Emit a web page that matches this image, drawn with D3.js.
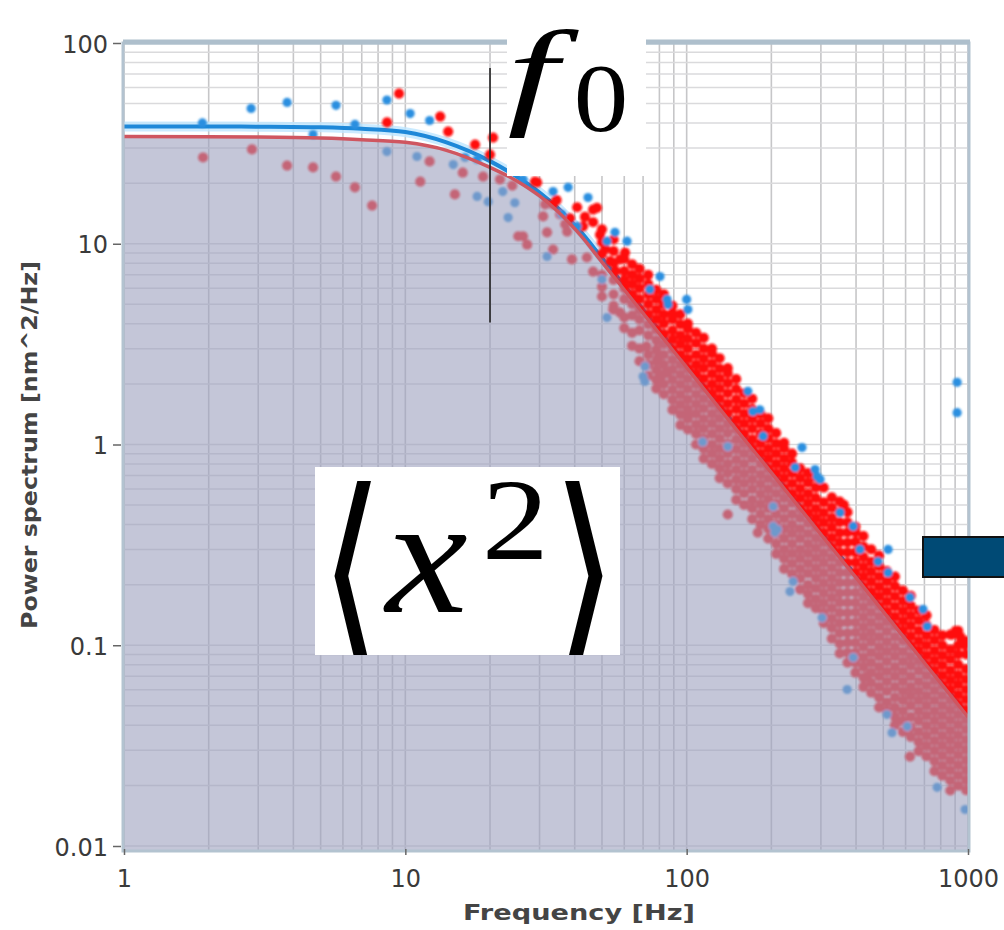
<!DOCTYPE html>
<html>
<head>
<meta charset="utf-8">
<script src="https://cdn.jsdelivr.net/npm/d3@7"></script>
<style>
  body { margin: 0; background: #fff; }
</style>
</head>
<body>
<div class="chart"></div>
<script>
const width = 1004;
const height = 930;
const plot = { left: 124, right: 968, top: 43, bottom: 846 };

const xTicks = [1, 10, 100, 1000];
const xTickLabels = ['1', '10', '100', '1000'];
const yTicks = [0.01, 0.1, 1, 10, 100];
const yTickLabels = ['0.01', '0.1', '1', '10', '100'];

// fitted curves [Hz, nm^2/Hz]
const fitRed = [[1, 34.2], [2, 34.1], [3, 34], [5, 33.6], [7, 33], [10, 32], [14, 29.2], [20, 24], [25, 20.5],
  [30, 17.3], [35, 14.4], [42, 11], [50, 8.1], [60, 5.9], [80, 3.57], [100, 2.42], [150, 1.19], [200, 0.724],
  [300, 0.357], [400, 0.217], [600, 0.107], [800, 0.0647], [1000, 0.0439]];
const fitBlue = [[1, 38.4], [2, 38.4], [3, 38.3], [5, 38], [7, 37.4], [10, 36], [14, 32], [20, 25.8], [25, 21.5],
  [30, 18], [35, 15], [42, 11.5], [50, 8.5], [60, 6.2], [80, 3.7], [100, 2.5], [200, 0.745], [400, 0.222],
  [1000, 0.045]];

const f0Marker = [20, 4.05, 75]; // frequency, bottom, top

// scattered red points
const redPoints = [[1.91, 26.9], [2.85, 29.5], [3.8, 24.5], [4.7, 24], [5.67, 21.6], [6.62, 19.1], [7.62, 15.5],
  [8.61, 40.2], [9.5, 56], [11.3, 20.4], [12.2, 25.7], [13.3, 43], [14.2, 36.2], [15, 17.6], [16, 22.6],
  [17.7, 31.2], [18.9, 21.6], [20.5, 33.8], [20, 27.8], [21.7, 20.9], [25.2, 10.9], [26.2, 10.9], [27.1, 9.9],
  [28.9, 20.4], [29.4, 20.2], [30.9, 13.7], [31.4, 15.7], [31.9, 11.4], [33.5, 15.7], [33.5, 9.36], [35.5, 14],
  [37, 12.5], [37.6, 11.5], [39.1, 8.35], [40.8, 15.2], [42.8, 12.2], [44.2, 8.54], [46.5, 14.8], [46.5, 12.8],
  [46.5, 7.27], [48, 15.1], [49.2, 11.1], [50, 5.46], [51.4, 9.4], [53.5, 8.2], [54.8, 4.7], [55.9, 7.3],
  [58, 4.54], [58, 8.35], [60.4, 9.04], [72, 3.08], [79.1, 2.71], [80, 2.18], [85.2, 2.28], [89.5, 1.49],
  [101, 1.38], [140, 0.448], [179, 0.364], [437, 0.0699], [622, 0.0279], [880, 0.113], [905, 0.118],
  [940, 0.11], [960, 0.105], [975, 0.1], [362, 0.5], [43.5, 13.6], [38.5, 13.4], [34.5, 16.5], [24, 19.5]];

// dense red band, one column of readings per frequency
const redBand = [
  [50, [11.8, 10.2, 8.9, 7.0, 6.1]],
  [55, [10.5, 9.2, 8.0, 6.6, 5.6, 4.9]],
  [60, [8.4, 7.3, 6.6, 6.0, 5.3, 4.3, 3.8]],
  [64, [7.9, 7.0, 6.3, 5.6, 5.0, 4.4, 3.6, 3.1]],
  [68, [7.5, 6.7, 6.0, 5.3, 4.7, 4.2, 3.7, 3.0, 2.6]],
  [73, [7.0, 6.3, 5.6, 5.0, 4.45, 3.96, 3.5, 2.8, 2.5, 2.2]],
  [78, [5.9, 5.3, 4.7, 4.2, 3.73, 3.3, 2.96, 2.6, 2.35, 2.1, 1.9]],
  [83, [5.6, 5.0, 4.45, 4.0, 3.55, 3.16, 2.8, 2.5, 2.24, 2.0, 1.78]],
  [89, [4.9, 4.5, 4.2, 3.7, 3.33, 2.97, 2.64, 2.36, 2.1, 1.87, 1.67, 1.49]],
  [95, [4.45, 3.97, 3.5, 3.15, 2.8, 2.5, 2.23, 1.99, 1.77, 1.58, 1.41, 1.25]],
  [101, [4.0, 3.77, 3.36, 3.0, 2.67, 2.38, 2.12, 1.89, 1.68, 1.5, 1.34, 1.19]],
  [108, [3.6, 3.2, 2.8, 2.5, 2.25, 2.0, 1.78, 1.59, 1.42, 1.26, 1.13, 1.0]],
  [115, [3.4, 3.0, 2.68, 2.4, 2.13, 1.9, 1.69, 1.51, 1.34, 1.2, 1.07, 0.95, 0.85]],
  [123, [3.0, 2.84, 2.53, 2.25, 2.0, 1.79, 1.6, 1.42, 1.27, 1.13, 1.0, 0.9, 0.8]],
  [131, [2.69, 2.39, 2.13, 1.9, 1.69, 1.51, 1.35, 1.2, 1.07, 0.95, 0.85, 0.76, 0.68]],
  [140, [2.4, 2.27, 2.02, 1.8, 1.6, 1.43, 1.27, 1.14, 1.01, 0.9, 0.8, 0.72, 0.64]],
  [150, [2.12, 1.89, 1.68, 1.5, 1.33, 1.19, 1.06, 0.945, 0.84, 0.75, 0.67, 0.6, 0.53]],
  [160, [1.8, 1.6, 1.42, 1.27, 1.13, 1.01, 0.9, 0.8, 0.715, 0.64, 0.57, 0.5]],
  [171, [1.69, 1.5, 1.34, 1.2, 1.06, 0.95, 0.85, 0.75, 0.67, 0.6, 0.53, 0.48, 0.425]],
  [183, [1.42, 1.27, 1.13, 1.01, 0.9, 0.8, 0.71, 0.635, 0.566, 0.505, 0.45, 0.4]],
  [195, [1.35, 1.2, 1.07, 0.95, 0.85, 0.757, 0.675, 0.6, 0.535, 0.48, 0.425, 0.38, 0.34]],
  [208, [1.14, 1.01, 0.9, 0.8, 0.717, 0.64, 0.57, 0.507, 0.45, 0.4, 0.36, 0.32, 0.285]],
  [222, [1.02, 0.957, 0.85, 0.76, 0.68, 0.604, 0.54, 0.48, 0.427, 0.38, 0.34, 0.3, 0.27, 0.24]],
  [237, [0.9, 0.81, 0.72, 0.64, 0.57, 0.51, 0.45, 0.4, 0.36, 0.32, 0.286, 0.255, 0.227]],
  [253, [0.76, 0.68, 0.605, 0.54, 0.48, 0.43, 0.38, 0.34, 0.3, 0.27, 0.24, 0.215, 0.19]],
  [270, [0.72, 0.645, 0.57, 0.51, 0.455, 0.406, 0.36, 0.32, 0.287, 0.256, 0.228, 0.2, 0.18, 0.162]],
  [288, [0.685, 0.61, 0.54, 0.48, 0.43, 0.384, 0.342, 0.305, 0.272, 0.242, 0.216, 0.192, 0.17, 0.153]],
  [307, [0.61, 0.515, 0.456, 0.408, 0.363, 0.324, 0.288, 0.257, 0.229, 0.204, 0.182, 0.162, 0.145, 0.129]],
  [328, [0.545, 0.485, 0.43, 0.385, 0.343, 0.306, 0.273, 0.243, 0.216, 0.193, 0.172, 0.153, 0.136, 0.122, 0.108]],
  [350, [0.52, 0.46, 0.41, 0.363, 0.325, 0.29, 0.258, 0.23, 0.205, 0.182, 0.163, 0.145, 0.129, 0.115, 0.102, 0.091]],
  [373, [0.46, 0.41, 0.365, 0.325, 0.29, 0.258, 0.23, 0.205, 0.183, 0.163, 0.145, 0.13, 0.115, 0.103, 0.092, 0.082]],
  [398, [0.39, 0.366, 0.327, 0.29, 0.259, 0.231, 0.206, 0.183, 0.163, 0.146, 0.13, 0.116, 0.103, 0.092, 0.082, 0.073]],
  [425, [0.35, 0.31, 0.275, 0.245, 0.219, 0.195, 0.174, 0.155, 0.138, 0.123, 0.11, 0.098, 0.087, 0.078, 0.069, 0.062]],
  [453, [0.3, 0.26, 0.232, 0.207, 0.184, 0.164, 0.146, 0.13, 0.116, 0.104, 0.092, 0.082, 0.073, 0.065, 0.058]],
  [483, [0.28, 0.248, 0.22, 0.196, 0.175, 0.156, 0.139, 0.124, 0.11, 0.098, 0.088, 0.078, 0.07, 0.062, 0.055, 0.049]],
  [515, [0.234, 0.208, 0.185, 0.165, 0.147, 0.131, 0.117, 0.104, 0.093, 0.083, 0.074, 0.066, 0.059, 0.052, 0.047]],
  [550, [0.22, 0.197, 0.175, 0.156, 0.139, 0.124, 0.11, 0.098, 0.088, 0.078, 0.07, 0.062, 0.055, 0.049, 0.044, 0.04]],
  [587, [0.187, 0.166, 0.148, 0.132, 0.118, 0.105, 0.093, 0.083, 0.074, 0.066, 0.059, 0.053, 0.047, 0.042, 0.037]],
  [626, [0.176, 0.157, 0.14, 0.125, 0.111, 0.099, 0.088, 0.079, 0.07, 0.062, 0.056, 0.05, 0.044, 0.039, 0.035]],
  [668, [0.149, 0.133, 0.118, 0.105, 0.094, 0.0835, 0.0745, 0.066, 0.059, 0.053, 0.047, 0.042, 0.037, 0.033, 0.0297]],
  [712, [0.141, 0.126, 0.112, 0.1, 0.089, 0.0794, 0.0707, 0.063, 0.056, 0.05, 0.0446, 0.0397, 0.0354, 0.0315, 0.028]],
  [760, [0.119, 0.106, 0.094, 0.084, 0.075, 0.0667, 0.0594, 0.053, 0.047, 0.042, 0.0375, 0.0334, 0.0298, 0.0265, 0.0236]],
  [811, [0.112, 0.1, 0.089, 0.0795, 0.0708, 0.0631, 0.0562, 0.05, 0.0446, 0.0398, 0.0354, 0.0316, 0.0282, 0.0251, 0.0224]],
  [865, [0.113, 0.095, 0.085, 0.075, 0.067, 0.06, 0.0533, 0.0475, 0.0424, 0.0377, 0.0337, 0.03, 0.0267, 0.0238, 0.0212, 0.0189]],
  [923, [0.118, 0.1, 0.09, 0.08, 0.071, 0.0636, 0.0566, 0.0505, 0.045, 0.0401, 0.0357, 0.0318, 0.0284, 0.0253, 0.0225, 0.02]],
  [985, [0.105, 0.09, 0.076, 0.0676, 0.0602, 0.0537, 0.0478, 0.0426, 0.038, 0.0338, 0.0301, 0.0268, 0.0239, 0.0213, 0.019]]
];

// blue points
const bluePoints = [[1.9, 40], [2.83, 47.2], [3.8, 50.6], [5.67, 48.9], [6.62, 39.3], [4.7, 35], [8.6, 52],
  [10.4, 44.5], [12.2, 41.1], [8.6, 28.8], [11, 27.2], [14.8, 24.8], [16.3, 26.9], [18, 26.3], [18, 17.2],
  [19.7, 16.2], [22.2, 18.2], [24.5, 16], [23.2, 13.5], [26.2, 20.9], [33.5, 18.2], [37.9, 19.1], [44.6, 17],
  [36, 14], [40.8, 12.2], [55.6, 11.4], [61.4, 10.3], [52.1, 10.3], [80.4, 6.87], [85.2, 5.28], [31.9, 8.64],
  [50, 6.64], [52.1, 4.29], [71.1, 2.45], [70, 2.18], [100, 5.28], [101, 4.7], [74, 5.92], [85.9, 4.98],
  [71, 2.06], [114, 1.03], [165, 1.84], [172, 1.46], [257, 0.966], [291, 0.693], [187, 1.1], [210, 0.377],
  [140, 0.977], [203, 0.491], [286, 0.75], [298, 0.67], [243, 0.768], [351, 0.458], [391, 0.391], [413, 0.3],
  [479, 0.261], [520, 0.3], [520, 0.23], [622, 0.173], [692, 0.151], [716, 0.124], [915, 2.04], [915, 1.44],
  [182, 1.49], [203, 0.391], [206, 0.364], [239, 0.208], [233, 0.185], [303, 0.137], [372, 0.0602],
  [515, 0.0452], [537, 0.0367], [777, 0.0196], [977, 0.0152], [391, 0.0869], [608, 0.0394]];

const svg = d3.select('.chart')
  .append('svg')
    .attr('width', width)
    .attr('height', height);

const x = d3.scaleLog().domain([1, 1000]).range([plot.left, plot.right]);
const y = d3.scaleLog().domain([0.01, 100]).range([plot.bottom, plot.top]);

const defs = svg.append('defs');
defs.append('clipPath').attr('id', 'plotClip')
  .append('rect')
    .attr('x', plot.left).attr('y', plot.top)
    .attr('width', plot.right - plot.left).attr('height', plot.bottom - plot.top + 4);
defs.append('filter').attr('id', 'soft')
  .attr('x', '-5%').attr('y', '-5%').attr('width', '110%').attr('height', '110%')
  .append('feGaussianBlur').attr('stdDeviation', 0.9);

// grid
const grid = svg.append('g');
grid.selectAll('.vg').data(x.ticks()).join('line')
  .attr('x1', d => x(d)).attr('x2', d => x(d))
  .attr('y1', plot.top).attr('y2', plot.bottom + 4)
  .attr('stroke', '#c6c6c8').attr('stroke-width', 1.6);
grid.selectAll('.hg').data(y.ticks()).join('line')
  .attr('x1', plot.left).attr('x2', plot.right)
  .attr('y1', d => y(d)).attr('y2', d => y(d))
  .attr('stroke', '#dadadc').attr('stroke-width', 1.5);

const chartG = svg.append('g').attr('clip-path', 'url(#plotClip)');

const line = d3.line().x(d => x(d[0])).y(d => y(d[1])).curve(d3.curveMonotoneX);

// blue fit sits under the points
chartG.append('path').datum(fitBlue)
  .attr('d', line).attr('fill', 'none')
  .attr('stroke', 'rgba(190,230,255,0.8)').attr('stroke-width', 10);
chartG.append('path').datum(fitBlue)
  .attr('d', line).attr('fill', 'none')
  .attr('stroke', '#1e88d8').attr('stroke-width', 4);

const redAll = redBand.flatMap(([f, vals]) => vals.map(v => [f, v])).concat(redPoints);

const dots = chartG.append('g').attr('filter', 'url(#soft)');
dots.append('g').selectAll('circle').data(redAll).join('circle')
  .attr('cx', d => x(d[0])).attr('cy', d => y(d[1])).attr('r', 5.1)
  .attr('fill', '#ff0f0f');
dots.append('g').selectAll('circle').data(bluePoints).join('circle')
  .attr('cx', d => x(d[0])).attr('cy', d => y(d[1])).attr('r', 4.6)
  .attr('fill', '#2b8fe0');

// shaded area under the red fit, drawn over the points
const area = d3.area()
  .x(d => x(d[0]))
  .y0(plot.bottom + 6)
  .y1(d => y(d[1]))
  .curve(d3.curveMonotoneX);
chartG.append('path').datum(fitRed)
  .attr('d', area)
  .attr('fill', 'rgb(157,160,190)').attr('fill-opacity', 0.6);

chartG.append('path').datum(fitRed)
  .attr('d', line).attr('fill', 'none')
  .attr('stroke', '#cf5660').attr('stroke-width', 3.5);

// frame
svg.append('rect')
  .attr('x', plot.left - 1).attr('y', plot.top)
  .attr('width', plot.right - plot.left + 2).attr('height', plot.bottom - plot.top + 5)
  .attr('fill', 'none').attr('stroke', '#b3c3d0').attr('stroke-width', 3);
svg.append('line')
  .attr('x1', plot.left - 1).attr('x2', plot.right + 2)
  .attr('y1', plot.top - 1).attr('y2', plot.top - 1)
  .attr('stroke', '#aebfcc').attr('stroke-width', 5);

// axes
const yAxis = svg.append('g')
  .attr('transform', `translate(${plot.left - 3},0)`)
  .call(d3.axisLeft(y).tickValues(yTicks).tickFormat((d, i) => yTickLabels[i]).tickSize(8).tickPadding(5));
yAxis.select('.domain').remove();
yAxis.selectAll('line').attr('stroke', '#666').attr('stroke-width', 1.5);
yAxis.selectAll('text')
  .attr('font-family', 'DejaVu Sans, sans-serif').attr('font-size', 24)
  .attr('fill', '#3a3a3a').attr('dy', '0.38em');

const xAxis = svg.append('g')
  .attr('transform', `translate(0,${plot.bottom + 3})`)
  .call(d3.axisBottom(x).tickValues(xTicks).tickFormat((d, i) => xTickLabels[i]).tickSize(6).tickPadding(15));
xAxis.select('.domain').remove();
xAxis.selectAll('line').attr('stroke', '#666').attr('stroke-width', 1.5);
xAxis.selectAll('text')
  .attr('font-family', 'DejaVu Sans, sans-serif').attr('font-size', 24)
  .attr('fill', '#3a3a3a');

svg.append('text')
  .attr('x', 579).attr('y', 920)
  .attr('text-anchor', 'middle')
  .attr('font-family', 'DejaVu Sans, sans-serif').attr('font-weight', 'bold').attr('font-size', 22)
  .attr('textLength', 232).attr('lengthAdjust', 'spacingAndGlyphs')
  .attr('fill', '#444')
  .text('Frequency [Hz]');

svg.append('text')
  .attr('transform', 'translate(37,445) rotate(-90)')
  .attr('text-anchor', 'middle')
  .attr('font-family', 'DejaVu Sans, sans-serif').attr('font-weight', 'bold').attr('font-size', 21)
  .attr('textLength', 368).attr('lengthAdjust', 'spacingAndGlyphs')
  .attr('fill', '#444')
  .text('Power spectrum [nm^2/Hz]');

// f0 marker line
svg.append('line')
  .attr('x1', x(f0Marker[0])).attr('x2', x(f0Marker[0]))
  .attr('y1', y(f0Marker[2])).attr('y2', y(f0Marker[1]))
  .attr('stroke', '#222').attr('stroke-width', 1.6);

// math labels pasted on top
const ctx = document.createElement('canvas').getContext('2d');
function glyph(parent, str, family, style, box) {
  ctx.font = `${style} 100px ${family}`;
  const m = ctx.measureText(str);
  const w = m.actualBoundingBoxLeft + m.actualBoundingBoxRight;
  const h = m.actualBoundingBoxAscent + m.actualBoundingBoxDescent;
  const sx = (box[2] - box[0]) / w;
  const sy = (box[3] - box[1]) / h;
  parent.append('text')
    .attr('transform', `translate(${box[0] + m.actualBoundingBoxLeft * sx},${box[1] + m.actualBoundingBoxAscent * sy}) scale(${sx},${sy})`)
    .attr('font-family', family).attr('font-style', style).attr('font-size', 100)
    .attr('fill', '#000')
    .text(str);
}

const fBox = svg.append('g');
fBox.append('rect').attr('x', 507).attr('y', 8).attr('width', 139).attr('height', 168).attr('fill', '#fff');
glyph(fBox, 'f', 'Liberation Serif', 'italic', [509, 28, 580, 138]);
glyph(fBox, '0', 'Liberation Serif', 'normal', [577, 67, 625, 133]);

svg.append('clipPath').attr('id', 'xClip')
  .append('rect').attr('x', 315).attr('y', 467).attr('width', 305).attr('height', 188);
const xBox = svg.append('g').attr('clip-path', 'url(#xClip)');
xBox.append('rect').attr('x', 315).attr('y', 467).attr('width', 305).attr('height', 188).attr('fill', '#fff');
glyph(xBox, '\u27E8', 'DejaVu Sans', 'normal', [333, 481, 371, 673]);
glyph(xBox, 'x', 'Liberation Serif', 'italic', [382, 535, 467, 612]);
glyph(xBox, '2', 'Liberation Serif', 'normal', [487, 482, 542, 560]);
glyph(xBox, '\u27E9', 'DejaVu Sans', 'normal', [565, 481, 604, 673]);

// arrow stub at right
svg.append('rect')
  .attr('x', 923).attr('y', 537).attr('width', 90).attr('height', 40)
  .attr('fill', '#004a75').attr('stroke', '#111').attr('stroke-width', 2);
</script>
</body>
</html>
